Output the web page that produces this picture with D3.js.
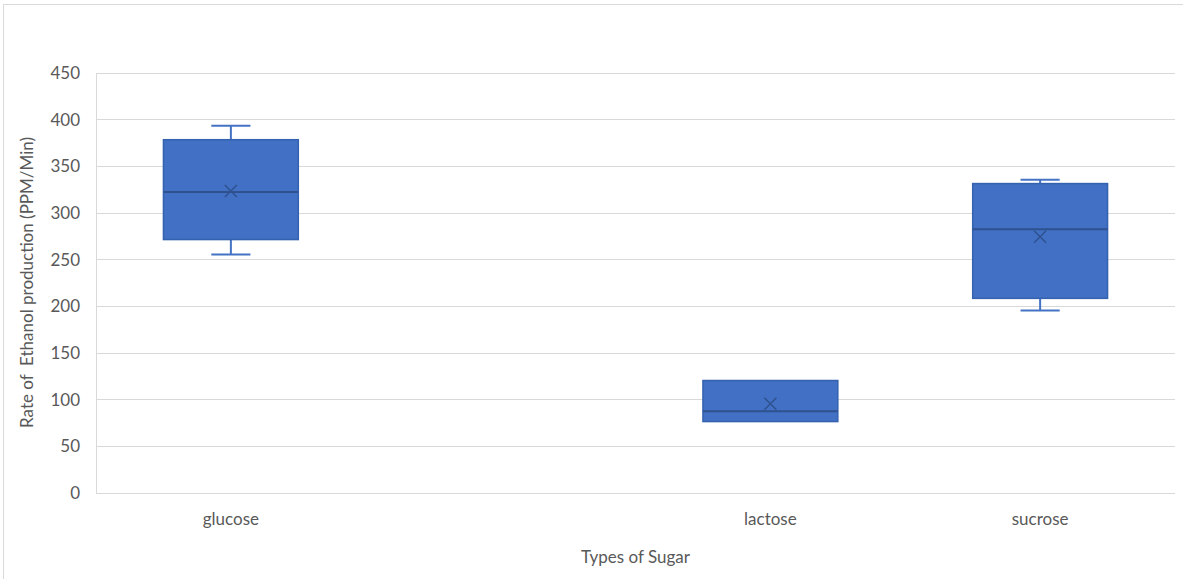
<!DOCTYPE html>
<html>
<head>
<meta charset="utf-8">
<script src="https://cdn.jsdelivr.net/npm/d3@7"></script>
<style>
  html, body { margin: 0; padding: 0; background: #fff; }
  svg { display: block; }
  text { font-family: Lato, "Open Sans", sans-serif; fill: #595959; }
</style>
</head>
<body>
<svg id="chart" width="1183" height="579"></svg>
<script>
// ---- data ----
const categories = ["glucose", "", "lactose", "sucrose"];
const whiskerMin = [255, null, 76, 195];
const q1Values   = [271, null, 76, 208];
const medians    = [322, null, 87, 282];
const q3Values   = [378, null, 120, 331];
const whiskerMax = [393, null, 120, 335];
const means      = [323, null, 95, 274];
const yTicks     = [0, 50, 100, 150, 200, 250, 300, 350, 400, 450];
const xTitle = "Types of Sugar";
const yTitle = "Rate of  Ethanol production (PPM/Min)";

const svg = d3.select("#chart");
const W = 1183, H = 579;
const m = { left: 96, right: 8, top: 72.5, bottom: 86.5 };

// outer chart border
svg.append("rect").attr("x", 3.5).attr("y", 4.5).attr("width", W + 10).attr("height", H + 10)
  .attr("fill", "none").attr("stroke", "#d9d9d9").attr("stroke-width", 1);

const x = d3.scaleBand().domain(categories).range([m.left, W - m.right]).paddingInner(0).paddingOuter(0);
const y = d3.scaleLinear().domain([0, 450]).range([H - m.bottom, m.top]);

// gridlines
const grid = svg.append("g").attr("transform", `translate(${m.left},0)`)
  .call(d3.axisLeft(y).tickValues(yTicks).tickSize(-(W - m.right - m.left)).tickFormat(""));
grid.select(".domain").remove();
grid.selectAll("line").attr("stroke", "#d9d9d9").attr("stroke-width", 1).attr("shape-rendering", "crispEdges");

// left axis line
svg.append("line").attr("x1", m.left).attr("x2", m.left).attr("y1", y(450)).attr("y2", y(0))
  .attr("stroke", "#d9d9d9").attr("shape-rendering", "crispEdges");

// y tick labels
const yAxis = svg.append("g").attr("transform", `translate(${m.left - 16},0)`)
  .call(d3.axisLeft(y).tickValues(yTicks).tickSize(0).tickPadding(0));
yAxis.select(".domain").remove();
yAxis.selectAll("text").style("font-size", "17px").attr("fill", "#595959").attr("dy", "0.35em");

// x tick labels
const xAxis = svg.append("g").attr("transform", `translate(0,${y(0)})`)
  .call(d3.axisBottom(x).tickSize(0).tickPadding(20));
xAxis.select(".domain").remove();
xAxis.selectAll("text").style("font-size", "17px").attr("fill", "#595959");

// titles
svg.append("text").attr("x", (m.left + W - m.right) / 2).attr("y", 557).attr("dy", "0.35em")
  .attr("text-anchor", "middle").style("font-size", "17px").text(xTitle);
svg.append("text").attr("transform", `translate(27,${(y(0) + y(450)) / 2}) rotate(-90)`)
  .attr("dy", "0.35em").attr("text-anchor", "middle").style("font-size", "17px")
  .style("white-space", "pre").attr("xml:space", "preserve").text(yTitle);

// boxes
const boxes = categories.map((c, i) => ({
  c, min: whiskerMin[i], q1: q1Values[i], med: medians[i], q3: q3Values[i], max: whiskerMax[i], mean: means[i]
})).filter(d => d.med !== null);

const bw = x.bandwidth() * 0.5;
const capW = bw * 0.29;
const blue = "#4472C4", dark = "#2F528F";

const g = svg.append("g");
boxes.forEach(d => {
  const cx = x(d.c) + x.bandwidth() / 2;
  // whiskers
  if (d.max > d.q3) {
    g.append("line").attr("x1", cx).attr("x2", cx).attr("y1", y(d.max)).attr("y2", y(d.q3)).attr("stroke", blue).attr("stroke-width", 2);
    g.append("line").attr("x1", cx - capW / 2).attr("x2", cx + capW / 2).attr("y1", y(d.max)).attr("y2", y(d.max)).attr("stroke", blue).attr("stroke-width", 2);
  }
  if (d.min < d.q1) {
    g.append("line").attr("x1", cx).attr("x2", cx).attr("y1", y(d.q1)).attr("y2", y(d.min)).attr("stroke", blue).attr("stroke-width", 2);
    g.append("line").attr("x1", cx - capW / 2).attr("x2", cx + capW / 2).attr("y1", y(d.min)).attr("y2", y(d.min)).attr("stroke", blue).attr("stroke-width", 2);
  }
  // box
  g.append("rect").attr("x", cx - bw / 2).attr("y", y(d.q3)).attr("width", bw).attr("height", y(d.q1) - y(d.q3))
    .attr("fill", "#4170C4").attr("stroke", "#3562AE").attr("stroke-width", 1.5);
  // median
  g.append("line").attr("x1", cx - bw / 2).attr("x2", cx + bw / 2).attr("y1", y(d.med)).attr("y2", y(d.med))
    .attr("stroke", dark).attr("stroke-width", 2);
  // mean marker
  const s = 6;
  const my = y(d.mean);
  g.append("path").attr("d", `M${cx - s},${my - s}L${cx + s},${my + s}M${cx - s},${my + s}L${cx + s},${my - s}`)
    .attr("stroke", dark).attr("stroke-width", 1.5).attr("fill", "none");
});
</script>
</body>
</html>
